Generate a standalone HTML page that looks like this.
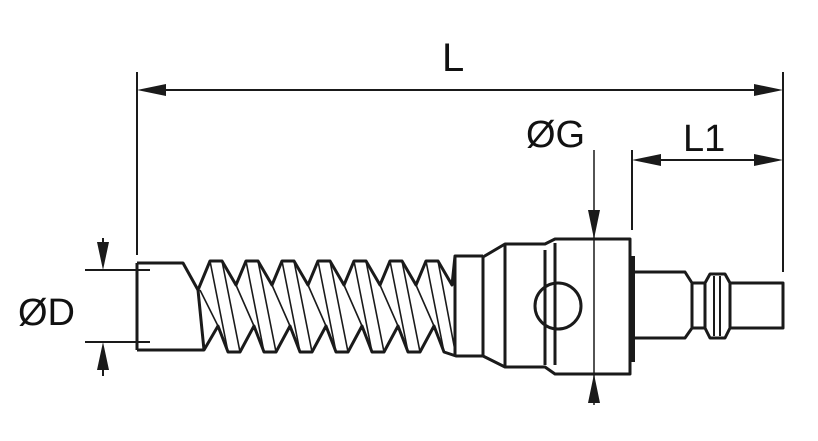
<!DOCTYPE html>
<html><head><style>body{margin:0;background:#fff}svg{display:block}text{font-family:"Liberation Sans",sans-serif;fill:#111}</style></head><body>
<svg width="818" height="441" viewBox="0 0 818 441" xmlns="http://www.w3.org/2000/svg">
<g stroke="#1a1a1a" fill="none" stroke-linejoin="round">
<g stroke-width="2">
<line x1="137" y1="72" x2="137" y2="255"/>
<line x1="783" y1="72" x2="783" y2="272"/>
<line x1="150" y1="90" x2="770" y2="90"/>
<line x1="632" y1="150" x2="632" y2="230"/>
<line x1="645" y1="160" x2="770" y2="160"/>
<line x1="85" y1="270" x2="150" y2="270"/>
<line x1="85" y1="342" x2="150" y2="342"/>
<line x1="103" y1="238" x2="103" y2="262"/>
<line x1="103" y1="350" x2="103" y2="376"/>
<line x1="594" y1="150" x2="594" y2="405" stroke-width="1.5"/>
</g>
<g fill="#1a1a1a" stroke="none">
<polygon points="137,90 166,84 166,96"/>
<polygon points="783,90 754,84 754,96"/>
<polygon points="632,160 661,154 661,166"/>
<polygon points="783,160 754,154 754,166"/>
<polygon points="103,270 97,242 109,242"/>
<polygon points="103,342 97,370 109,370"/>
<polygon points="594,239 588,210 600,210"/>
<polygon points="594,374 588,403 600,403"/>
<rect x="630" y="256" width="5" height="106"/>
</g>
<g stroke-width="3">
<path d="M137,263 L183,263 L198,290 L210,261 L222,261 L236,285 L246,261 L258,261 L272,285 L282,261 L294,261 L308,285 L318,261 L330,261 L344,285 L354,261 L366,261 L380,285 L390,261 L402,261 L416,285 L426,261 L438,261 L452,285 L455,256 L483,256"/>
<path d="M137,350 L204,350 L218,326 L228,352 L240,352 L254,326 L264,352 L276,352 L290,326 L300,352 L312,352 L326,326 L336,352 L348,352 L362,326 L372,352 L384,352 L398,326 L408,352 L420,352 L434,326 L444,352 L456,356 L483,356"/>
<line x1="137" y1="263" x2="137" y2="350"/>
<line x1="198" y1="290" x2="204" y2="350"/>
<line x1="455" y1="256" x2="455" y2="356"/>
</g>
<g stroke-width="1.6">
<path d="M210,261L228,352M222,261L240,352M246,261L264,352M258,261L276,352M282,261L300,352M294,261L312,352M318,261L336,352M330,261L348,352M354,261L372,352M366,261L384,352M390,261L408,352M402,261L420,352M426,261L444,352M438,261L456,356"/>
<path d="M200,290L218,326M236,285L254,326M272,285L290,326M308,285L326,326M344,285L362,326M380,285L398,326M416,285L434,326"/>
</g>
<g stroke-width="3">
<path d="M483,257 L505,244 L545,244 L555,239 L630,239 L630,374 L555,374 L545,367 L505,367 L483,356 Z"/>
<line x1="505" y1="244" x2="505" y2="367"/>
<circle cx="558" cy="306" r="23"/>
<line x1="545" y1="250" x2="545" y2="365"/>
<line x1="555" y1="243" x2="555" y2="365"/>
<path d="M635,272 L685,272 L692,283 L705,283 L710,274 L725,274 L730,283 L783,283 L783,328 L730,328 L725,338 L710,338 L705,328 L692,328 L685,338 L635,338"/>
<line x1="692" y1="283" x2="692" y2="328"/>
<line x1="705" y1="283" x2="705" y2="328"/>
<line x1="730" y1="283" x2="730" y2="328"/>
<line x1="714" y1="276" x2="714" y2="336" stroke-width="2"/>
<line x1="720" y1="276" x2="720" y2="336" stroke-width="2"/>
</g>
</g>
<text x="442" y="71" font-size="40">L</text>
<text x="526" y="147" font-size="38">ØG</text>
<text x="683" y="151" font-size="38">L1</text>
<text x="18" y="325" font-size="38">ØD</text>
</svg>
</body></html>
